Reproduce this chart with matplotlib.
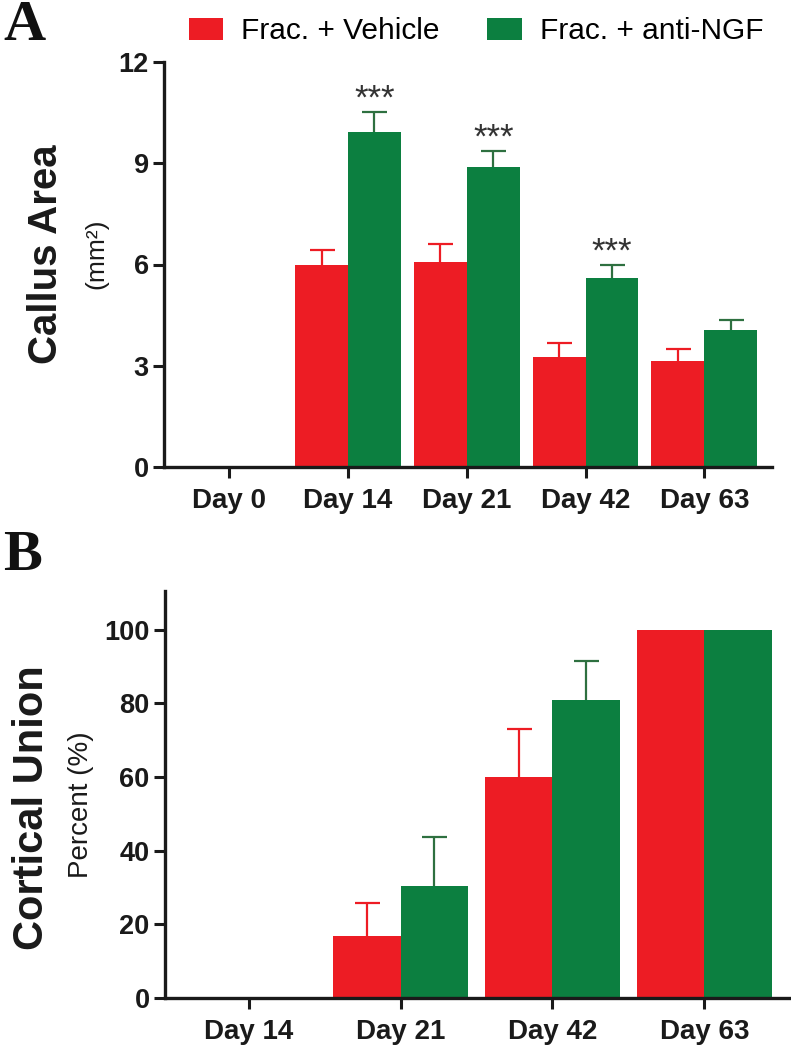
import numpy as np
import matplotlib
matplotlib.use("Agg")
import matplotlib.pyplot as plt

# ---------------- data ----------------
days_a = ["Day 0", "Day 14", "Day 21", "Day 42", "Day 63"]
area_vehicle = [0.0, 5.98, 6.07, 3.26, 3.14]
area_vehicle_err = [0.0, 0.44, 0.55, 0.42, 0.37]
area_antingf = [0.0, 9.94, 8.88, 5.59, 4.07]
area_antingf_err = [0.0, 0.57, 0.47, 0.39, 0.28]
area_sig = ["", "***", "***", "***", ""]

days_b = ["Day 14", "Day 21", "Day 42", "Day 63"]
union_vehicle = [0.0, 16.7, 60.0, 100.0]
union_vehicle_err = [0.0, 9.2, 13.0, 0.0]
union_antingf = [0.0, 30.5, 80.8, 100.0]
union_antingf_err = [0.0, 13.3, 10.8, 0.0]

series_labels = ["Frac. + Vehicle", "Frac. + anti-NGF"]
a_yticks = [0, 3, 6, 9, 12]
b_yticks = [0, 20, 40, 60, 80, 100]

# ---------------- style ----------------
RED = "#ED1C24"
GREEN = "#0C7F40"
GREEN_ERR = "#2E7040"
plt.rcParams["font.family"] = ["Liberation Sans", "DejaVu Sans"]

W, H = 791, 1050
fig = plt.figure(figsize=(W / 100, H / 100), dpi=100)

def px_axes(l, r, top, bottom):
    return fig.add_axes([l / W, 1 - bottom / H, (r - l) / W, (bottom - top) / H])

axA = px_axes(164, 772, 62, 467)
axB = px_axes(165, 791, 591, 998)

BW = 0.445

def style(ax, ticks, xlabels, ylim, xlim):
    for s in ["top", "right"]:
        ax.spines[s].set_visible(False)
    for s in ["left", "bottom"]:
        ax.spines[s].set_linewidth(2.4)
        ax.spines[s].set_color("#1a1a1a")
    ax.set_ylim(*ylim)
    ax.set_xlim(*xlim)
    ax.set_yticks(ticks)
    ax.set_xticks(np.arange(len(xlabels)))
    ax.set_xticklabels(xlabels)
    ax.tick_params(axis="both", direction="out", length=8, width=2.2, color="#1a1a1a")
    ax.tick_params(axis="x", pad=7, labelsize=20)
    ax.tick_params(axis="y", pad=3, labelsize=19.5)
    for t in ax.get_xticklabels() + ax.get_yticklabels():
        t.set_fontweight("bold")
        t.set_color("#1a1a1a")

def upper_err(ax, x, y, e, color):
    e = np.array(e)
    y = np.array(y)
    m = e > 0
    _, caps, _ = ax.errorbar(x[m], y[m], yerr=[np.zeros(m.sum()), e[m]], fmt="none",
                             ecolor=color, elinewidth=1.6, capsize=9, capthick=1.6, zorder=1)
    caps[0].set_visible(False)

def bars(ax, v, ve, g, ge):
    x = np.arange(len(v))
    b1 = ax.bar(x - BW / 2, v, BW, color=RED, zorder=2, label=series_labels[0])
    b2 = ax.bar(x + BW / 2, g, BW, color=GREEN, zorder=2, label=series_labels[1])
    upper_err(ax, x - BW / 2, v, ve, RED)
    upper_err(ax, x + BW / 2, g, ge, GREEN_ERR)
    return b1, b2, x

# Panel A
b1, b2, xa = bars(axA, area_vehicle, area_vehicle_err, area_antingf, area_antingf_err)
style(axA, a_yticks, days_a, (0, 12), (-0.55, 4.57))
for xi, g, ge, s in zip(xa, area_antingf, area_antingf_err, area_sig):
    if s:
        axA.text(xi + BW / 2, g + ge - 0.1, s, ha="center", va="bottom",
                 fontsize=25, color="#333333")

# Panel B
bars(axB, union_vehicle, union_vehicle_err, union_antingf, union_antingf_err)
style(axB, b_yticks, days_b, (0, 110.5), (-0.55, 3.57))

# Y labels (bold title + smaller subtitle)
fig.text(46 / W, 1 - 254 / H, "Callus Area", rotation=90, ha="center", va="center",
         fontsize=29, fontweight="bold", color="#1a1a1a")
fig.text(96 / W, 1 - 254 / H, "(mm²)", rotation=90, ha="center", va="center",
         fontsize=19, color="#1a1a1a")
fig.text(32 / W, 1 - 808 / H, "Cortical Union", rotation=90, ha="center", va="center",
         fontsize=30, fontweight="bold", color="#1a1a1a")
fig.text(81 / W, 1 - 805 / H, "Percent (%)", rotation=90, ha="center", va="center",
         fontsize=20, color="#1a1a1a")

# Panel letters
fig.text(3 / W, 1 - 0 / H, "A", ha="left", va="top", fontsize=42, fontweight="bold",
         family="Liberation Serif", color="#111111")
fig.text(3 / W, 1 - 530 / H, "B", ha="left", va="top", fontsize=42, fontweight="bold",
         family="Liberation Serif", color="#111111")

# Legend
fig.legend(handles=[b1, b2], labels=series_labels, loc="center", ncol=2,
           bbox_to_anchor=(476 / W, 1 - 31 / H), frameon=False, fontsize=21.5,
           handlelength=1.15, handleheight=0.75, handletextpad=0.6, columnspacing=1.6)

fig.savefig("out.png", dpi=100)
